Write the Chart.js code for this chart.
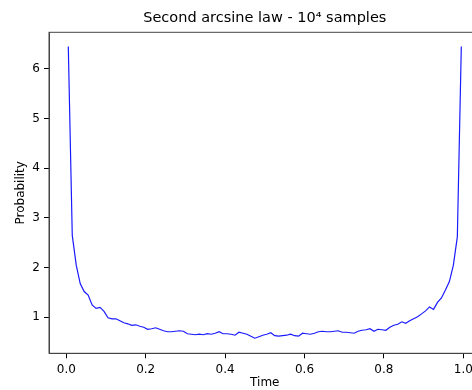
<!DOCTYPE html>
<html>
<head>
<meta charset="UTF-8">
<title>Second arcsine law</title>
<script src="https://cdn.jsdelivr.net/npm/chart.js@4.4.1/dist/chart.umd.min.js"></script>
<style>
    html, body { margin: 0; padding: 0; background: #fff; overflow: hidden; }
    #box { width: 490px; height: 390px; position: relative; }
</style>
</head>
<body>
<div id="box"><canvas id="grafico"></canvas></div>
<script>
// bin centres (time) and estimated probability density
var tempos = [
    0.005, 0.015, 0.025, 0.035, 0.045, 0.055, 0.065, 0.075, 0.085, 0.095,
    0.105, 0.115, 0.125, 0.135, 0.145, 0.155, 0.165, 0.175, 0.185, 0.195,
    0.205, 0.215, 0.225, 0.235, 0.245, 0.255, 0.265, 0.275, 0.285, 0.295,
    0.305, 0.315, 0.325, 0.335, 0.345, 0.355, 0.365, 0.375, 0.385, 0.395,
    0.405, 0.415, 0.425, 0.435, 0.445, 0.455, 0.465, 0.475, 0.485, 0.495,
    0.505, 0.515, 0.525, 0.535, 0.545, 0.555, 0.565, 0.575, 0.585, 0.595,
    0.605, 0.615, 0.625, 0.635, 0.645, 0.655, 0.665, 0.675, 0.685, 0.695,
    0.705, 0.715, 0.725, 0.735, 0.745, 0.755, 0.765, 0.775, 0.785, 0.795,
    0.805, 0.815, 0.825, 0.835, 0.845, 0.855, 0.865, 0.875, 0.885, 0.895,
    0.905, 0.915, 0.925, 0.935, 0.945, 0.955, 0.965, 0.975, 0.985, 0.995
];
var probabilidade = [
    6.45, 2.65, 2.05, 1.68, 1.52, 1.45, 1.25, 1.18, 1.20, 1.12,
    0.99, 0.97, 0.97, 0.93, 0.89, 0.87, 0.84, 0.85, 0.82, 0.80,
    0.76, 0.77, 0.79, 0.76, 0.73, 0.71, 0.71, 0.72, 0.73, 0.72,
    0.67, 0.66, 0.65, 0.66, 0.65, 0.67, 0.66, 0.68, 0.71, 0.67,
    0.67, 0.66, 0.64, 0.70, 0.68, 0.66, 0.62, 0.58, 0.61, 0.64,
    0.66, 0.69, 0.63, 0.62, 0.63, 0.64, 0.66, 0.63, 0.62, 0.68,
    0.67, 0.66, 0.68, 0.71, 0.72, 0.71, 0.71, 0.72, 0.73, 0.70,
    0.70, 0.69, 0.68, 0.72, 0.74, 0.75, 0.77, 0.72, 0.76, 0.75,
    0.74, 0.80, 0.84, 0.86, 0.91, 0.88, 0.93, 0.97, 1.01, 1.07,
    1.13, 1.21, 1.16, 1.30, 1.39, 1.55, 1.72, 2.05, 2.62, 6.45
];
var ticksX = [0.0, 0.2, 0.4, 0.6, 0.8, 1.0];
var ticksY = [1, 2, 3, 4, 5, 6];

var fonte = "'DejaVu Sans', sans-serif";

var pontos = tempos.map(function(t, i) {
    return { x: t, y: probabilidade[i] };
});

// moldura completa como no matplotlib
var moldura = {
    id: 'moldura',
    afterDraw: function(chart) {
        var a = chart.chartArea;
        var ctx = chart.ctx;
        ctx.save();
        ctx.strokeStyle = '#444';
        ctx.lineWidth = 1;
        ctx.strokeRect(a.left, a.top, a.right - a.left, a.bottom - a.top);
        ctx.restore();
    }
};

var ctx = document.getElementById("grafico").getContext("2d");
var grafico = new Chart(ctx, {
    type: "line",
    data: {
        datasets: [{
            data: pontos,
            borderColor: "#1a1aff",
            borderWidth: 1.2,
            pointRadius: 0,
            fill: false,
            tension: 0
        }]
    },
    options: {
        responsive: true,
        maintainAspectRatio: false,
        animation: false,
        devicePixelRatio: 1,
        layout: { padding: { left: 0, right: 9.4, top: 0, bottom: 0 } },
        plugins: {
            legend: { display: false },
            tooltip: { enabled: false },
            title: {
                display: true,
                text: "Second arcsine law - 10\u2074 samples",
                color: "#000",
                fullSize: false,
                font: { family: fonte, size: 14.5, weight: "normal" },
                padding: { top: 10, bottom: 4.9 }
            }
        },
        scales: {
            x: {
                type: "linear",
                min: -0.0436,
                max: 1.0436,
                afterBuildTicks: function(scale) {
                    scale.ticks = ticksX.map(function(v) { return { value: v }; });
                },
                afterFit: function(scale) { scale.height = 36.7; },
                ticks: {
                    color: "#000",
                    font: { family: fonte, size: 12 },
                    padding: 4,
                    maxRotation: 0,
                    callback: function(v) { return v.toFixed(1); }
                },
                grid: { drawOnChartArea: false, tickLength: 5, tickColor: "#000" },
                border: { color: "#444" },
                title: {
                    display: true,
                    text: "Time",
                    color: "#000",
                    font: { family: fonte, size: 12 },
                    padding: { top: 0, bottom: 0 }
                }
            },
            y: {
                type: "linear",
                min: 0.276,
                max: 6.738,
                afterBuildTicks: function(scale) {
                    scale.ticks = ticksY.map(function(v) { return { value: v }; });
                },
                afterFit: function(scale) { scale.width = 49; },
                ticks: {
                    color: "#000",
                    font: { family: fonte, size: 12 },
                    padding: 4,
                    callback: function(v) { return String(v); }
                },
                grid: { drawOnChartArea: false, tickLength: 5, tickColor: "#000" },
                border: { color: "#444" },
                title: {
                    display: true,
                    text: "Probability",
                    color: "#000",
                    font: { family: fonte, size: 12 },
                    padding: { top: 14, bottom: 0 }
                }
            }
        }
    },
    plugins: [moldura]
});
</script>
</body>
</html>
